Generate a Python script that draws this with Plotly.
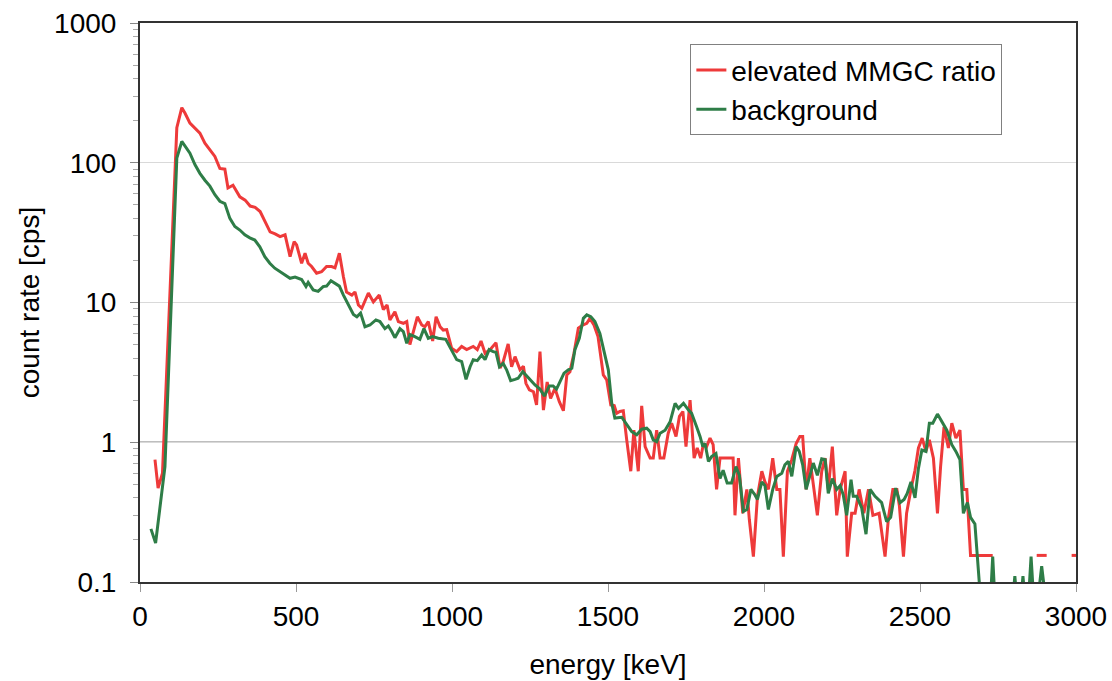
import plotly.graph_objects as go

# ---- data ----
red_energy = [48, 58, 72, 118, 134, 144, 160, 176, 192, 208, 224, 240, 256, 272, 282, 298, 320, 337, 353, 369,
              385, 401, 417, 433, 449, 465, 481, 494, 502, 518, 529, 539, 550, 566, 582, 598, 614, 625, 639, 652,
              662, 679, 689, 700, 711, 732, 748, 767, 780, 792, 801, 817, 828, 844, 855, 865, 876, 889, 903, 913,
              924, 938, 949, 962, 972, 983, 999, 1015, 1031, 1047, 1068, 1081, 1093, 1106, 1122, 1141, 1154, 1164, 1180, 1191,
              1202, 1218, 1229, 1237, 1248, 1261, 1271, 1282, 1293, 1305, 1316, 1330, 1344, 1357, 1368, 1378, 1391, 1405, 1419, 1432,
              1442, 1455, 1468, 1485, 1496, 1509, 1520, 1528, 1538, 1549, 1560, 1573, 1583, 1597, 1608, 1619, 1635, 1645, 1656, 1667,
              1679, 1693, 1704, 1718, 1729, 1740, 1750, 1763, 1776, 1786, 1797, 1806, 1816, 1827, 1837, 1848, 1859, 1875, 1891, 1901,
              1907, 1918, 1932, 1945, 1953, 1966, 1979, 1993, 2003, 2014, 2028, 2041, 2051, 2062, 2075, 2089, 2103, 2115, 2124, 2135,
              2147, 2158, 2171, 2185, 2196, 2206, 2219, 2233, 2244, 2260, 2267, 2281, 2292, 2305, 2320, 2335, 2349, 2369, 2388, 2399,
              2413, 2426, 2434, 2447, 2457, 2471, 2484, 2495, 2507, 2519, 2530, 2543, 2556, 2566, 2577, 2591, 2602, 2615, 2628, 2639,
              2650, 2662, 2733, 2800, 2874, 2906, 2950, 2986, 3013]
red_rate = [0.75, 0.47, 0.6, 178, 248, 227, 192, 177, 163, 138, 124, 111, 91, 90, 66, 69, 57, 54, 49, 48,
            44.8, 38, 32, 31, 29.6, 30.5, 21.3, 27.3, 25.8, 19.1, 22.5, 19.1, 18.1, 16.2, 16.6, 18.1, 18.1, 17.7, 22.5, 15.3,
            11.9, 11.3, 11.9, 9.6, 9.1, 11.7, 10.1, 11.3, 8.9, 9.6, 7.5, 8.6, 7.3, 7.1, 7.3, 5.0, 6.2, 7.9, 6.9, 6.7,
            7.3, 5.3, 7.9, 6.7, 6.35, 6.4, 4.7, 4.45, 4.85, 4.6, 4.85, 4.6, 5.3, 4.33, 4.6, 5.15, 3.4, 3.77, 5.05, 3.47,
            4.1, 3.3, 3.5, 2.64, 2.37, 2.3, 1.85, 4.45, 1.7, 2.7, 2.06, 2.43, 1.95, 1.68, 3.03, 3.2, 4.33, 6.55, 6.9, 7.1,
            7.7, 6.9, 5.7, 3.03, 2.79, 1.85, 1.83, 1.61, 1.66, 1.68, 1.04, 0.62, 1.22, 0.62, 1.82, 0.93, 0.77, 0.77, 1.22, 0.77,
            0.77, 1.16, 1.37, 1.10, 1.53, 1.66, 0.93, 2.0, 0.77, 0.91, 0.77, 0.98, 0.93, 1.07, 0.96, 0.46, 0.77, 0.77, 0.77, 0.77,
            0.30, 0.77, 0.31, 0.46, 0.28, 0.152, 0.41, 0.62, 0.52, 0.46, 0.77, 0.46, 0.46, 0.152, 0.62, 0.75, 0.98, 1.10, 1.10, 0.46,
            0.77, 0.49, 0.30, 0.62, 0.77, 0.46, 0.93, 0.30, 0.46, 0.62, 0.152, 0.31, 0.31, 0.46, 0.31, 0.46, 0.30, 0.31, 0.152, 0.29,
            0.46, 0.46, 0.35, 0.152, 0.31, 0.46, 0.63, 0.91, 1.07, 0.86, 1.04, 0.77, 0.31, 0.67, 1.29, 0.91, 1.37, 1.07, 1.22, 0.46,
            0.46, 0.155, 0.155, None, 0.155, 0.155, None, 0.155, 0.155]

green_energy = [35, 50, 80, 118, 134, 144, 160, 176, 192, 208, 224, 240, 256, 272, 288, 304, 320, 336, 352, 368,
                384, 400, 416, 432, 448, 464, 481, 497, 518, 532, 539, 555, 571, 587, 598, 612, 625, 639, 652, 668,
                684, 695, 707, 721, 737, 756, 769, 785, 796, 807, 817, 833, 844, 855, 865, 881, 897, 910, 924, 938,
                956, 980, 999, 1015, 1031, 1045, 1058, 1068, 1081, 1095, 1106, 1119, 1132, 1141, 1152, 1164, 1175, 1188, 1202, 1212,
                1227, 1245, 1266, 1282, 1296, 1312, 1324, 1335, 1346, 1359, 1373, 1384, 1394, 1408, 1421, 1432, 1445, 1458, 1474, 1490,
                1501, 1512, 1522, 1544, 1560, 1576, 1592, 1608, 1624, 1635, 1645, 1656, 1667, 1683, 1699, 1715, 1726, 1742, 1758, 1768,
                1784, 1795, 1804, 1811, 1822, 1832, 1846, 1859, 1869, 1882, 1896, 1910, 1921, 1934, 1945, 1958, 1971, 1979, 1993, 2003,
                2014, 2028, 2041, 2057, 2067, 2078, 2089, 2103, 2113, 2124, 2135, 2147, 2158, 2171, 2185, 2196, 2206, 2219, 2233, 2244,
                2254, 2265, 2279, 2286, 2297, 2313, 2327, 2340, 2356, 2377, 2393, 2406, 2422, 2436, 2449, 2459, 2471, 2484, 2495, 2506,
                2519, 2530, 2541, 2556, 2570, 2586, 2602, 2615, 2628, 2639, 2652, 2662, 2676, 2700, 2722, 2733, 2744, 2790, 2804, 2817,
                2830, 2843, 2856, 2869, 2890, 2912]
green_rate = [0.24, 0.19, 0.67, 108, 142, 131, 117, 97, 84, 75, 68, 59, 53, 51, 40, 35, 33, 30.5, 29, 28,
              25, 21.3, 19.1, 17.6, 16.6, 15.8, 14.9, 15.2, 14.6, 13.0, 13.9, 12.3, 12.0, 13.0, 13.1, 14.3, 13.7, 13.1, 11.3, 9.6,
              8.2, 7.9, 8.4, 6.7, 6.9, 7.5, 7.3, 6.5, 6.8, 6.2, 5.6, 6.5, 6.2, 5.1, 5.9, 5.7, 5.45, 6.5, 5.55, 5.7,
              5.55, 5.45, 4.5, 3.9, 3.77, 2.82, 3.47, 3.9, 3.84, 4.21, 3.9, 4.6, 4.45, 4.4, 3.47, 3.67, 3.3, 2.76, 2.82, 2.87,
              3.2, 2.87, 2.57, 2.4, 2.14, 2.53, 2.53, 2.4, 2.7, 3.12, 3.3, 3.39, 4.6, 5.55, 7.7, 8.15, 7.9, 7.3, 6.0, 4.33,
              3.3, 1.9, 1.49, 1.51, 1.33, 1.19, 1.13, 1.24, 1.26, 1.19, 1.04, 1.01, 1.16, 1.22, 1.40, 1.9, 1.75, 1.9, 1.70, 1.61,
              1.29, 1.10, 0.93, 0.98, 0.73, 0.79, 0.83, 0.55, 0.63, 0.51, 0.51, 0.67, 0.58, 0.32, 0.33, 0.46, 0.42, 0.39, 0.52, 0.49,
              0.33, 0.46, 0.57, 0.60, 0.69, 0.73, 0.57, 0.93, 0.86, 0.69, 0.46, 0.58, 0.71, 0.58, 0.76, 0.75, 0.43, 0.55, 0.46, 0.49,
              0.42, 0.30, 0.54, 0.41, 0.41, 0.34, 0.22, 0.46, 0.41, 0.37, 0.27, 0.29, 0.47, 0.37, 0.39, 0.43, 0.52, 0.40, 0.65, 0.88,
              0.86, 1.37, 1.37, 1.59, 1.40, 1.22, 0.96, 0.86, 0.75, 0.31, 0.37, 0.29, 0.26, 0.05, 0.05, 0.152, 0.05, 0.05, 0.11, 0.05,
              0.11, 0.05, 0.152, 0.05, 0.13, 0.05]

y_tickvals = [0.1, 1, 10, 100, 1000]
y_ticktext = ["0.1", "1", "10", "100", "1000"]
y_minor_tickvals = [m * d for d in (0.1, 1, 10, 100) for m in (2, 3, 4, 5, 6, 7, 8, 9)]
x_tickvals = [0, 500, 1000, 1500, 2000, 2500, 3000]

RED = "#EE3A3A"
GREEN = "#2E7D47"
FONT = "Liberation Sans, Arial, sans-serif"
FS = 28

fig = go.Figure()
fig.add_trace(go.Scatter(x=red_energy, y=red_rate, mode="lines", name="elevated MMGC ratio",
                         line=dict(color=RED, width=3), connectgaps=False, legendgroup="a"))
fig.add_trace(go.Scatter(x=green_energy, y=green_rate, mode="lines", name="background",
                         line=dict(color=GREEN, width=3), legendgroup="b"))

fig.add_shape(type="line", xref="paper", x0=0, x1=1, yref="y", y0=1, y1=1,
              line=dict(color="#7f7f7f", width=1.3), layer="between")

fig.update_layout(
    width=1112, height=681,
    margin=dict(l=140, r=36, t=23, b=99),
    paper_bgcolor="white", plot_bgcolor="white",
    font=dict(family=FONT, size=FS, color="black"),
    showlegend=True,
    legend=dict(x=0.588, y=0.962, xanchor="left", yanchor="top",
                bgcolor="white", bordercolor="#808080", borderwidth=1,
                font=dict(size=FS), tracegroupgap=0, itemwidth=30),
    xaxis=dict(range=[0, 3000], tickvals=x_tickvals, ticks="outside", ticklen=8, tickcolor="#999999",
               showline=True, linecolor="#333333", linewidth=2, mirror=True, showgrid=False,
               zeroline=False, tickfont=dict(size=FS), automargin=False,
               title=dict(text="energy [keV]", font=dict(size=FS), standoff=24)),
    yaxis=dict(type="log", range=[-1, 3], tickvals=y_tickvals, ticktext=y_ticktext,
               ticks="outside", ticklen=8, tickcolor="#888888",
               minor=dict(tickvals=y_minor_tickvals, ticks="outside", ticklen=5,
                          tickcolor="#aaaaaa", showgrid=False),
               showline=True, linecolor="#333333", linewidth=2, mirror=True,
               showgrid=True, gridcolor="#d9d9d9", gridwidth=1.3,
               tickfont=dict(size=FS), ticklabelstandoff=8, automargin=False,
               title=dict(text="count rate [cps]", font=dict(size=FS), standoff=6)),
)

fig.write_html("out.html")
